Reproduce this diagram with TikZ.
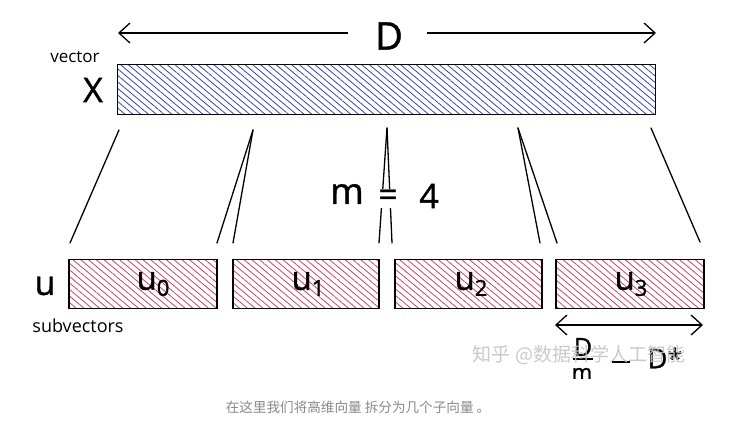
\documentclass[tikz,border=0pt]{standalone}
\usepackage{fontspec}
\setmainfont{Open Sans}
\newfontfamily\handfont{Open Sans}[FakeBold=1.2]
\newfontfamily\cjk{Noto Sans CJK SC}
\usetikzlibrary{patterns.meta,arrows.meta}
\definecolor{hblue}{HTML}{3445A8}
\definecolor{hred}{HTML}{C8446A}
\definecolor{capgray}{HTML}{8A8A8A}
\definecolor{wmgray}{HTML}{C4C4C4}
\newcommand{\subl}[2]{#1\raisebox{-6pt}{\fontsize{22}{22}\selectfont #2}}
\tikzset{
  vecbox/.style={draw=black, line width=1.5pt, anchor=north west, inner sep=0pt,
     pattern={Lines[angle=-40,distance=5pt,line width=0.8pt]}, pattern color=hblue},
  subbox/.style={draw=black, line width=1.5pt, anchor=north west, inner sep=0pt,
     minimum height=49pt, pattern={Lines[angle=-40,distance=5pt,line width=0.8pt]}, pattern color=hred},
  dimarrow/.style={line width=1.4pt, {Straight Barb[length=11pt,width=20pt,line width=1.3pt]}-{Straight Barb[length=11pt,width=20pt,line width=1.3pt]}},
  splitline/.style={line width=1.3pt, line cap=round},
  biglabel/.style={inner sep=0pt},
  hw/.style={font=\handfont\fontsize{#1}{#1}\selectfont},
  sw/.style={font=\fontsize{#1}{#1}\selectfont},
}
\begin{document}
\begin{tikzpicture}[x=1pt,y=-1pt]
\useasboundingbox[fill=white] (0,0) rectangle (733,427);

% main vector
\node[vecbox, minimum width=538pt, minimum height=50pt] (X) at (117,64) {};
\node[biglabel, sw=17] (vec) at (75,57) {vector};
\node[biglabel, hw=34] (Xl) at (93,90) {X};

% D arrow
\coordinate (dl) at (118,33);
\coordinate (dr) at (656,33);
\node[biglabel, hw=38] (D) at (389,36) {D};
\draw[line width=1.4pt, {Straight Barb[length=11pt,width=20pt,line width=1.3pt]}-] (dl) -- (348,33);
\draw[line width=1.4pt, -{Straight Barb[length=11pt,width=20pt,line width=1.3pt]}] (427,33) -- (dr);

% subvectors
\node[subbox, minimum width=148pt] (u0) at (68,259) {};
\node[subbox, minimum width=146pt] (u1) at (232,259) {};
\node[subbox, minimum width=147pt] (u2) at (394,259) {};
\node[subbox, minimum width=148pt] (u3) at (555,259) {};
\foreach \i/\x in {0/153,1/308,2/471,3/631}{
  \node[biglabel, hw=33] (lab\i) at (\x,284) {\subl{u}{\i}};
}
\node[biglabel, hw=34] (ul) at (45,286) {u};
\node[biglabel, sw=18] (subv) at (78,326) {subvectors};

% split lines
\coordinate (t1) at (119,130); \coordinate (b1) at (70,243);
\coordinate (t2) at (253,130); \coordinate (b2a) at (217,243); \coordinate (b2b) at (233,243);
\coordinate (t3) at (387,128); \coordinate (b3a) at (379,243); \coordinate (b3b) at (392,243);
\coordinate (t4) at (518,128); \coordinate (b4a) at (540,243); \coordinate (b4b) at (557,243);
\coordinate (t5) at (651,128); \coordinate (b5) at (700,242);
\draw[splitline] (t1) -- (b1);
\draw[splitline] (t2) -- (b2a);
\draw[splitline] (t2) -- (b2b);
\draw[splitline] (t3) -- (b3a);
\draw[splitline] (t3) -- (b3b);
\draw[splitline] (t4) -- (b4a);
\draw[splitline] (t4) -- (b4b);
\draw[splitline] (t5) -- (b5);

\fill[white] (370,189) rectangle (405,208);
\node[biglabel, hw=36] (m) at (347,194) {m};
\node[biglabel, hw=34] (eq) at (388,198) {=};
\node[biglabel, hw=34] (four) at (429,196) {4};

% D* arrow
\coordinate (sl) at (555,325);
\coordinate (sr) at (703,325);
\draw[dimarrow] (sl) -- (sr);

% fraction D/m = D*, clipped
\begin{scope}
\clip (540,335) rectangle (733,378);
\node[biglabel, hw=25] (fD) at (583,347) {D};
\draw[line width=1.6pt] (573,359) -- (593,359);
\node[biglabel, hw=22] (fm) at (582,374) {m};
\draw[line width=2.4pt] (612,362) -- (630,362);
\node[biglabel, hw=27] (fD2) at (665,358) {D*};
\end{scope}

% watermark
\node[biglabel, text=wmgray, opacity=0.9, font=\cjk\fontsize{19}{19}\selectfont] (wm) at (579,355) {知乎 @数据科学人工智能};

% caption
\node[biglabel, text=capgray, font=\cjk\fontsize{13.6}{13.6}\selectfont] (cap) at (358,407) {在这里我们将高维向量 拆分为几个子向量 。};
\end{tikzpicture}
\end{document}
